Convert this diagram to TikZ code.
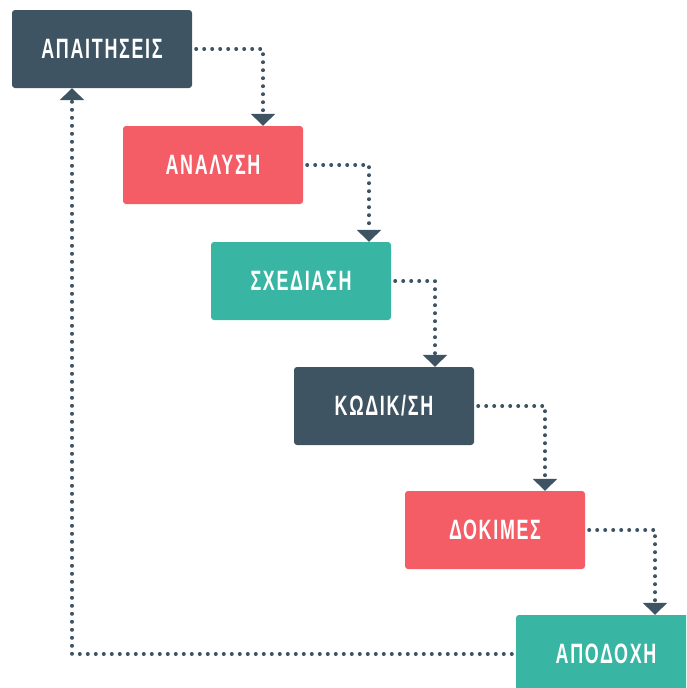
\documentclass[tikz,border=0pt]{standalone}
\usepackage{fontspec}
\setmainfont[FakeStretch=0.64,LetterSpace=6]{Liberation Sans}
\usetikzlibrary{arrows.meta}
\definecolor{slate}{HTML}{3E5462}
\definecolor{coral}{HTML}{F45C66}
\definecolor{teal}{HTML}{39B6A3}
\tikzset{
  stage/.style={fill=#1, rounded corners=3pt, minimum width=180pt, minimum height=78pt,
    text=white, font=\fontsize{28}{28}\selectfont\bfseries, inner sep=0pt},
  flow/.style={slate, line width=4pt, line cap=round, dash pattern=on 0pt off 8pt,
    -{Triangle[width=24pt,length=12pt,line cap=butt]}},
}
\begin{document}
\begin{tikzpicture}[x=1pt,y=-1pt]
    \useasboundingbox (0,0) rectangle (686,688);
    \clip (0,0) rectangle (686,688);
    %  position / label / fill of each stage
    \foreach \p/\t/\c [count=\i from 1] in {(102,49)/ΑΠΑΙΤΗΣΕΙΣ/slate,(213,165)/ΑΝΑΛΥΣΗ/coral,(301,281)/ΣΧΕΔΙΑΣΗ/teal,(384,406)/{ΚΩΔΙΚ/ΣΗ}/slate,(495,530)/ΔΟΚΙΜΕΣ/coral,(606,654)/ΑΠΟΔΟΧΗ/teal}
      {\node[stage=\c] (u\i) at \p {\raisebox{-2pt}{\t}};}
    \foreach \x [count=\i from 1] in {263,369,435,545,655}
      {\pgfmathtruncatemacro\j{\i+1}
       \draw[flow] ([xshift=4pt]u\i.east) -| (\x,0 |- u\j.north);}
    \draw[flow] ([xshift=-4pt]u6.west) -| (72,0 |- u1.south);
  \end{tikzpicture}
\end{document}
